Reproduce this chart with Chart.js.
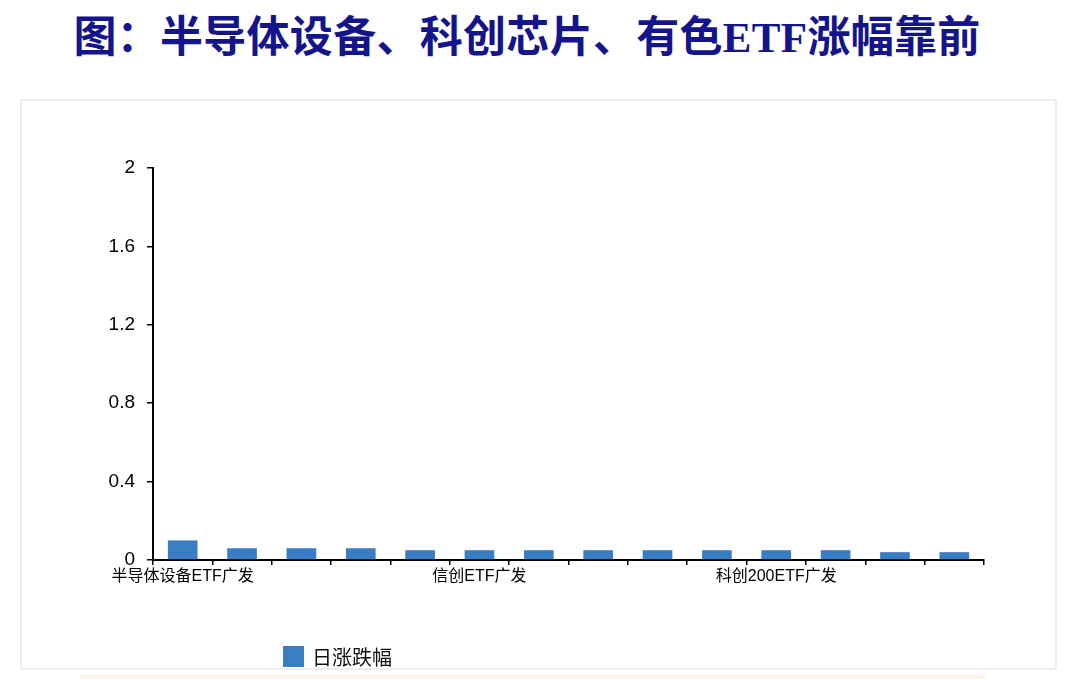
<!DOCTYPE html>
<html>
<head>
<meta charset="utf-8">
<script src="https://cdn.jsdelivr.net/npm/chart.js@4.4.0/dist/chart.umd.min.js"></script>
<style>
    html, body { margin: 0; padding: 0; background: #fff; }
    body { width: 1074px; height: 679px; position: relative; overflow: hidden; }
    .title {
        position: absolute; left: 0; top: 2px; width: 1054px; text-align: center;
        font-family: "Liberation Serif", "Times New Roman", "Noto Sans CJK SC", serif;
        font-weight: bold; font-size: 43px; color: #14148c; letter-spacing: 0.3px;
    }
    .panel {
        position: absolute; left: 20px; top: 99px; width: 1033px; height: 567px;
        border: 2px solid #eeeeee; background: #fff;
    }
    .panel canvas { position: absolute; left: 0; top: 0; }
    .legend {
        position: absolute; left: 261px; top: 541px; display: flex; align-items: center;
        font-family: "Noto Sans CJK SC", sans-serif; font-size: 20px; color: #111;
    }
    .legend .box { width: 21px; height: 21px; margin-right: 8px; }
    .strip {
        position: absolute; left: 80px; top: 675px; width: 905px; height: 4px; background: #fdf5e6;
    }
</style>
</head>
<body>
<div class="title">图：半导体设备、科创芯片、有色ETF涨幅靠前</div>
<div class="panel">
    <canvas id="etfChart" width="1033" height="567"></canvas>
    <div class="legend"><span class="box" id="legendBox"></span><span id="legendText"></span></div>
</div>
<div class="strip"></div>
<script>
    // categories (only every fifth name is printed on the axis)
    const categories = ['半导体设备ETF广发', '', '', '', '', '信创ETF广发', '', '', '', '', '科创200ETF广发', '', '', ''];
    const seriesName = '日涨跌幅';
    const dailyChange = [0.10, 0.06, 0.06, 0.06, 0.05, 0.05, 0.05, 0.05, 0.05, 0.05, 0.05, 0.05, 0.04, 0.04];
    const yTicks = [0, 0.4, 0.8, 1.2, 1.6, 2];

    const barColor = '#3b7dc3';
    const axisFont = { family: '"Liberation Sans", Arial, "Noto Sans CJK SC", sans-serif', size: 16 };

    document.getElementById('legendBox').style.background = barColor;
    document.getElementById('legendText').textContent = seriesName;

    const ctx = document.getElementById('etfChart').getContext('2d');
    new Chart(ctx, {
        type: 'bar',
        data: {
            labels: categories,
            datasets: [{
                label: seriesName,
                data: dailyChange,
                backgroundColor: barColor,
                barPercentage: 0.5,
                categoryPercentage: 1.0
            }]
        },
        options: {
            responsive: false,
            animation: false,
            layout: { padding: { left: 0, right: 71, top: 67, bottom: 78 } },
            scales: {
                x: {
                    border: { color: '#000', width: 2 },
                    grid: { display: true, drawOnChartArea: false, drawTicks: true, tickLength: 5, color: '#000', lineWidth: 1.5, offset: true },
                    ticks: { autoSkip: false, maxRotation: 0, color: '#000', font: axisFont, padding: 2 },
                    afterFit: function (scale) { scale.height = 30; }
                },
                y: {
                    min: yTicks[0],
                    max: yTicks[yTicks.length - 1],
                    afterBuildTicks: function (scale) {
                        scale.ticks = yTicks.map(v => ({ value: v }));
                    },
                    border: { color: '#000', width: 2 },
                    grid: { display: true, drawOnChartArea: false, drawTicks: true, tickLength: 6, color: '#000', lineWidth: 1.5 },
                    ticks: {
                        color: '#000',
                        font: { family: '"Liberation Sans", Arial, sans-serif', size: 19 },
                        padding: 12,
                        callback: function (value) { return String(Math.round(value * 10) / 10); }
                    },
                    afterFit: function (scale) { scale.width = 131; }
                }
            },
            plugins: {
                legend: { display: false },
                tooltip: { enabled: false }
            }
        }
    });
</script>
</body>
</html>
